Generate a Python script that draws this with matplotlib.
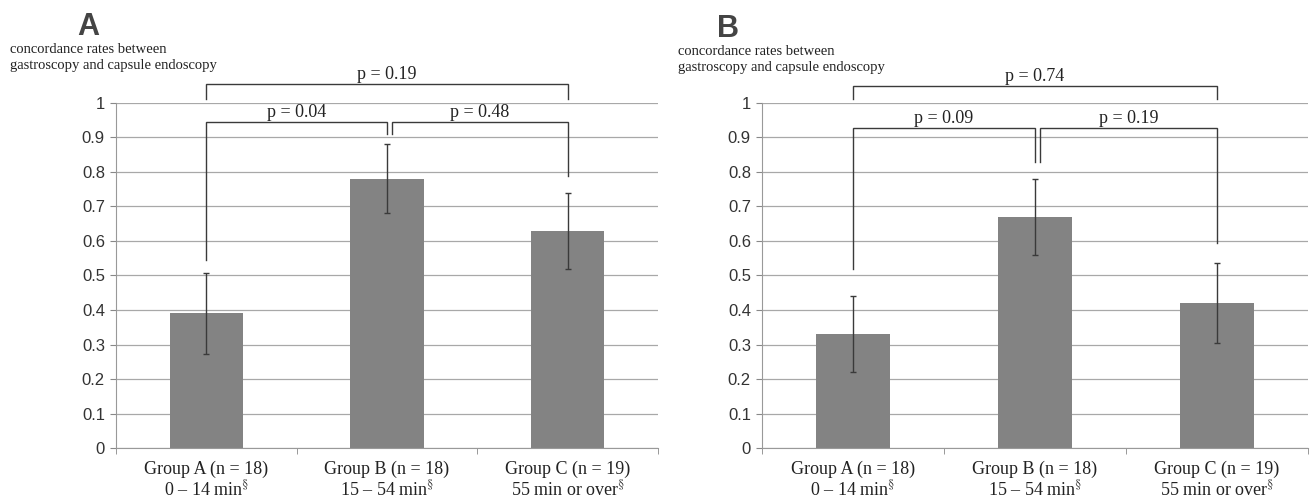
import matplotlib.pyplot as plt
import numpy as np

plt.rcParams['mathtext.fontset'] = 'stix'

# data
groups = ["Group A (n = 18)\n0 \u2013 14 min$^{\\S}$",
          "Group B (n = 18)\n15 \u2013 54 min$^{\\S}$",
          "Group C (n = 19)\n55 min or over$^{\\S}$"]
rates_a = [0.39, 0.78, 0.63]
err_a = [0.117, 0.10, 0.11]
rates_b = [0.33, 0.67, 0.42]
err_b = [0.11, 0.11, 0.115]
pvals_a = ["p = 0.04", "p = 0.48", "p = 0.19"]
pvals_b = ["p = 0.09", "p = 0.19", "p = 0.74"]
# bracket leg bottoms: (pair1 left, pair1 right, pair2 left, pair2 right)
legs_a = [0.545, 0.91, 0.91, 0.788]
legs_b = [0.52, 0.83, 0.83, 0.594]
ylabel = "concordance rates between\ngastroscopy and capsule endoscopy"

serif = ['Liberation Serif', 'DejaVu Serif']
sans = ['Liberation Sans', 'DejaVu Sans']
barc = '#838383'
linec = '#3a3a3a'

fig = plt.figure(figsize=(13.12, 5.03), dpi=100)


def bracket(ax, x0, x1, ytop, yl, yr, label):
  ax.plot([x0, x0, x1, x1], [yl, ytop, ytop, yr], color=linec, lw=1.0,
          clip_on=False, solid_joinstyle='miter')
  ax.text((x0 + x1) / 2, ytop + 0.003, label, ha='center', va='bottom',
          fontsize=13, family=serif, color='#222222')


def panel(left, width, rates, errs, pvals, legs, htop, hrow):
  ax = fig.add_axes([left, 0.1093, width, 0.686])
  x = np.arange(len(rates))
  ax.bar(x, rates, width=0.405, color=barc, zorder=2)
  ax.errorbar(x, rates, yerr=errs, fmt='none', ecolor=linec, elinewidth=1.0,
              capsize=2.5, capthick=1.0, zorder=3)
  ax.set_xlim(-0.5, 2.5)
  ax.set_ylim(0, 1)
  ax.set_yticks(np.arange(0, 1.01, 0.1))
  ax.set_yticklabels(["0"] + ["%.1f" % v for v in np.arange(0.1, 0.95, 0.1)] + ["1"],
                     family=sans, fontsize=12, color='#333333')
  ax.yaxis.grid(True, color='#a8a8a8', lw=0.9, zorder=0)
  ax.set_xticks(x)
  ax.set_xticklabels(groups, family=serif, fontsize=13, color='#222222',
                     linespacing=1.1)
  ax.tick_params(axis='x', which='major', length=0, pad=9)
  ax.set_xticks([-0.5, 0.5, 1.5, 2.5], minor=True)
  ax.tick_params(axis='x', which='minor', length=4, color='#888888')
  ax.tick_params(axis='y', length=4, color='#888888', pad=4)
  for s in ['top', 'right']:
    ax.spines[s].set_visible(False)
  for s in ['left', 'bottom']:
    ax.spines[s].set_color('#999999')
  ax.set_axisbelow(True)
  bracket(ax, 0, 1.0, hrow, legs[0], legs[1], pvals[0])
  bracket(ax, 1.027, 2, hrow, legs[2], legs[3], pvals[1])
  bracket(ax, 0, 2, htop, 1.012, 1.012, pvals[2])
  return ax


panel(116 / 1312, 542 / 1312, rates_a, err_a, pvals_a, legs_a, 1.055, 0.945)
panel(762 / 1312, 546 / 1312, rates_b, err_b, pvals_b, legs_b, 1.048, 0.928)

fig.text(88 / 1312, 1 - 35 / 503, "A", fontsize=22, fontweight='bold',
         family=sans, color='#444444', ha='center')
fig.text(10 / 1312, 1 - 43 / 503, ylabel, fontsize=10.5, family=serif,
         color='#222222', va='top', linespacing=1.35)
fig.text(728 / 1312, 1 - 37 / 503, "B", fontsize=22, fontweight='bold',
         family=sans, color='#444444', ha='center')
fig.text(678 / 1312, 1 - 45 / 503, ylabel, fontsize=10.5, family=serif,
         color='#222222', va='top', linespacing=1.35)

fig.savefig("out.png", dpi=100)
